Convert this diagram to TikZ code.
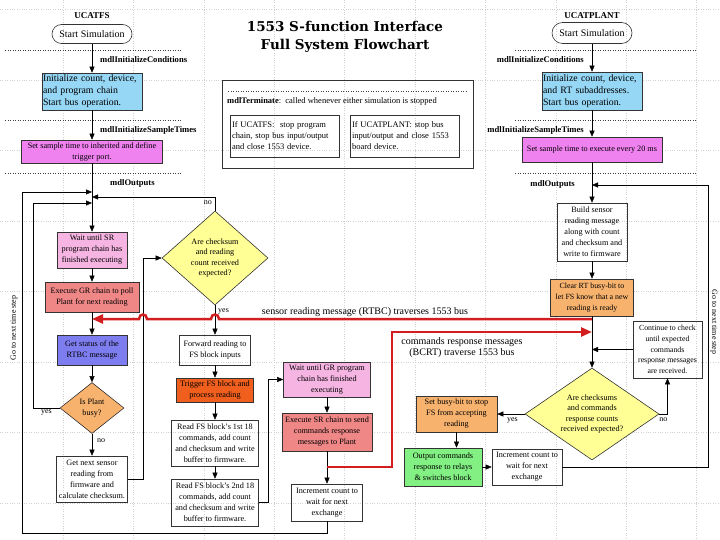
\documentclass[tikz,border=0pt]{standalone}
\usepackage{fontspec}
\setmainfont{Liberation Serif}
\newfontfamily\titlefont{DejaVu Serif}
\usetikzlibrary{positioning,shapes.geometric,arrows.meta}

\definecolor{initblue}{RGB}{150,215,245}
\definecolor{sampmagenta}{RGB}{240,130,240}
\definecolor{waitpink}{RGB}{245,180,225}
\definecolor{execred}{RGB}{240,135,135}
\definecolor{rtbcblue}{RGB}{125,125,240}
\definecolor{busyorange}{RGB}{247,178,110}
\definecolor{trigorange}{RGB}{240,95,30}
\definecolor{chkyellow}{RGB}{255,255,150}
\definecolor{cmdgreen}{RGB}{130,240,130}
\definecolor{busred}{RGB}{210,30,30}

\newcommand\boxfont{\fontsize{8.2}{11}\selectfont}

\begin{document}
\begin{tikzpicture}[x=1pt,y=-1pt,on grid,>={Triangle[length=6pt,width=5pt]},
    proc/.style={rectangle,draw=black!80,line width=0.6pt,inner sep=1pt,align=center,font=\boxfont},
    initbox/.style={proc,fill=initblue,text width=98pt,inner sep=1pt,align=left,font=\fontsize{9.8}{12}\selectfont},
    decide/.style={diamond,draw=black!80,line width=0.6pt,inner sep=0pt,align=center,font=\fontsize{8.2}{10.6}\selectfont,fill=chkyellow},
    startstop/.style={rectangle,rounded corners=9.5pt,draw=black!80,line width=0.6pt,minimum width=80pt,minimum height=19pt,font=\fontsize{10}{11}\selectfont},
    phase/.style={inner sep=0pt,font=\bfseries\fontsize{8.6}{10}\selectfont},
    ans/.style={inner sep=0pt,font=\fontsize{8}{9}\selectfont},
    bus/.style={draw=busred,line width=2.5pt,-{Triangle[length=11pt,width=9pt]}},
    sep/.style={dotted,black!75,line width=0.5pt},
    gridline/.style={dotted,black!18,line width=0.4pt}]
\useasboundingbox (0,0) rectangle (720,540);
\fill[white] (0,0) rectangle (720,540);
% background grid
\foreach \gx in {0,...,9} \draw[gridline] (63+70.4*\gx,0) -- (63+70.4*\gx,540);
\foreach \gy in {-1,...,6} \draw[gridline] (0,80+70.5*\gy) -- (720,80+70.5*\gy);

% title
\node[align=center,font=\titlefont\bfseries\fontsize{13.5}{18}\selectfont] (title) at (345,37) {1553 S-function Interface\\Full System Flowchart};

% UCATFS side
\node[font=\bfseries\fontsize{9}{10}\selectfont] (name_fs) at (92,16) {UCATFS};
\node[startstop] (start_fs) at (92,34) {Start Simulation};
\node[initbox,minimum height=37pt] (init_fs) [below=57.5pt of start_fs] {Initialize count, device,\\and program chain\\Start bus operation.};
\node[proc,fill=sampmagenta,minimum width=141pt,minimum height=23pt] (samp_fs) [below=60pt of init_fs] {Set sample time to inherited and define\\trigger port.};
\node[proc,fill=waitpink,minimum width=70pt,minimum height=36pt] (wait_sr) [below=98.5pt of samp_fs] {Wait until SR\\program chain has\\finished executing};
\node[proc,fill=execred,minimum width=94pt,minimum height=30pt] (exec_gr) [below=47pt of wait_sr] {Execute GR chain to poll\\Plant for next reading};
\node[proc,fill=rtbcblue,minimum width=70pt,minimum height=30pt] (rtbc) [below=53pt of exec_gr] {Get status of the\\RTBC message};
\node[decide,fill=busyorange,aspect=1.25,minimum width=64pt,minimum height=51pt] (plant_busy) [below=58pt of rtbc] {Is Plant\\busy?};
\node[proc,minimum width=71pt,minimum height=46pt] (get_next) [below=71pt of plant_busy] {Get next sensor\\reading from\\firmware and\\calculate checksum.};

\node[decide,aspect=1.1,minimum width=106pt,minimum height=94pt] (chk1) at (215,258) {Are checksum\\and reading\\count received\\expected?};
\node[proc,minimum width=71pt,minimum height=30pt] (fwd) [below=92pt of chk1] {Forward reading to\\FS block inputs};
\node[proc,fill=trigorange,minimum width=77pt,minimum height=24pt] (trig) [below=40pt of fwd] {Trigger FS block and\\process reading};
\node[proc,minimum width=87pt,minimum height=46pt] (read1) [below=53pt of trig] {Read FS block's 1st 18\\commands, add count\\and checksum and write\\buffer to firmware.};
\node[proc,minimum width=87pt,minimum height=47pt] (read2) [below=59.5pt of read1] {Read FS block's 2nd 18\\commands, add count\\and checksum and write\\buffer to firmware.};

\node[proc,fill=waitpink,minimum width=87pt,minimum height=35pt] (wait_gr) at (327,379.5) {Wait until GR program\\chain has finished\\executing};
\node[proc,fill=execred,minimum width=90pt,minimum height=38pt] (exec_sr) [below=52.5pt of wait_gr] {Execute SR chain to send\\commands response\\messages to Plant};
\node[proc,minimum width=71pt,minimum height=37pt] (inc_fs) [below=70.5pt of exec_sr] {Increment count to\\wait for next\\exchange};

% UCATPLANT side
\node[font=\bfseries\fontsize{9}{10}\selectfont] (name_pl) at (592,16) {UCATPLANT};
\node[startstop,minimum height=21pt,rounded corners=10.5pt] (start_pl) at (592,33) {Start Simulation};
\node[initbox,minimum height=38pt] (init_pl) [below=58pt of start_pl] {Initialize count, device,\\and RT subaddresses.\\Start bus operation.};
\node[proc,fill=sampmagenta,minimum width=140pt,minimum height=25pt] (samp_pl) [below=58.5pt of init_pl] {Set sample time to execute every 20 ms};
\node[proc,minimum width=70pt,minimum height=58pt] (build) [below=82.5pt of samp_pl] {Build sensor\\reading message\\along with count\\and checksum and\\write to firmware};
\node[proc,fill=busyorange,minimum width=83pt,minimum height=37pt,font=\fontsize{7.9}{11}\selectfont] (clear) [below=65.5pt of build] {Clear RT busy-bit to\\let FS know that a new\\reading is ready};
\node[decide,aspect=1.5,minimum width=134pt,minimum height=92pt] (chk2) [below=116.5pt of clear] {Are checksums\\and commands\\response counts\\received expected?};
\node[proc,minimum width=69pt,minimum height=57pt,font=\fontsize{7.8}{10.8}\selectfont] (cont) at (667.5,349.5) {Continue to check\\until expected\\commands\\response messages\\are received.};
\node[proc,fill=busyorange,minimum width=81pt,minimum height=36pt] (busyset) [left=135.5pt of chk2] {Set busy-bit to stop\\FS from accepting\\reading};
\node[proc,fill=cmdgreen,minimum width=78pt,minimum height=38pt] (out_cmd) at (443,467) {Output commands\\response to relays\\\& switches block};
\node[proc,minimum width=70pt,minimum height=36pt] (inc_pl) [right=84pt of out_cmd] {Increment count to\\wait for next\\exchange};

% terminate box
\node[draw=black!80,line width=0.6pt,minimum width=251pt,minimum height=88pt] (term) at (347.5,124) {};
\draw[sep] (228,91) -- (466,91);
\node[anchor=west,inner sep=0pt,font=\fontsize{8.5}{10}\selectfont] (term_txt) at (227,101) {\textbf{mdlTerminate}:\ \ called whenever either simulation is stopped};
\node[proc,text width=105pt,inner sep=2pt,align=left,minimum height=42pt,font=\fontsize{8.5}{11}\selectfont] (term_fs) at (284.5,136) {If UCATFS:\ \ stop program\\chain, stop bus input/output\\and close 1553 device.};
\node[proc,text width=105pt,inner sep=2pt,align=left,minimum height=42pt,font=\fontsize{8.5}{11}\selectfont] (term_pl) at (404.5,136) {If UCATPLANT: stop bus\\input/output and close 1553\\board device.};

% phase separators and labels
\foreach \sy in {50,120,173} {
  \draw[sep] (5,\sy) -- (182,\sy);
  \draw[sep] (515,\sy) -- (697,\sy);
}
\node[phase,anchor=west] (cond_fs) at (100,60) {mdlInitializeConditions};
\node[phase,anchor=west] (times_fs) at (100,130) {mdlInitializeSampleTimes};
\node[phase,anchor=west] (out_fs) at (110,183) {mdlOutputs};
\node[phase,anchor=east] (cond_pl) at (584,60) {mdlInitializeConditions};
\node[phase,anchor=east] (times_pl) at (584,130) {mdlInitializeSampleTimes};
\node[phase,anchor=east] (out_pl) at (575,184) {mdlOutputs};

\node[ans,rotate=90] (step_fs) at (14,328) {Go to next time step};
\node[ans,rotate=-90] (step_pl) at (714,322) {Go to next time step};

% UCATFS connectors
\coordinate (join_step) at (92,192);
\coordinate (join_no) at (92,197);
\coordinate (join_busy) at (92,203);
\draw[->] (start_fs) -- (init_fs);
\draw[->] (init_fs) -- (samp_fs);
\draw[->] (samp_fs) -- (wait_sr);
\draw[->] (wait_sr) -- (exec_gr);
\draw[->] (exec_gr) -- (rtbc);
\draw[->] (rtbc) -- (plant_busy);
\draw[->] (plant_busy) -- node[ans,anchor=west,pos=0.3,xshift=5pt] {no} (get_next);
\draw[->] (plant_busy.west) -- node[ans,below=2pt] {yes} (33,408) -- (join_busy -| 33,0) -- (join_busy);
\draw[->] (get_next.east) -- ++(15,0) |- (chk1.west);
\draw[->] (chk1.north) |- node[ans,pos=0.3,left=3pt] {no} (join_no);
\draw[->] (chk1.south) -- node[ans,pos=0.1,anchor=north west,xshift=3pt] {yes} (fwd);
\draw[->] (fwd) -- (trig);
\draw[->] (trig) -- (read1);
\draw[->] (read1) -- (read2);
\draw[->] (read2.east) -- ++(9,0) |- (wait_gr.west);
\draw[->] (wait_gr) -- (exec_sr);
\draw[->] (exec_sr) -- (inc_fs);
\draw[->] (inc_fs.south) -- ++(0,12) -| (22,192) -- (join_step);

% UCATPLANT connectors
\coordinate (join_pl) at (592,185);
\coordinate (join_cont) at (592,349.5);
\draw[->] (start_pl) -- (init_pl);
\draw[->] (init_pl) -- (samp_pl);
\draw[->] (samp_pl) -- (build);
\draw[->] (build) -- (clear);
\draw[->] (clear) -- (chk2);
\draw[->] (cont.west) -- (join_cont);
\draw[->] (chk2.east) -| node[ans,pos=0.25,below=4pt] {no} (cont.south);
\draw[->] (chk2.west) -- node[ans,pos=0.45,below=4pt] {yes} (busyset.east);
\draw[->] (busyset.south) -- (busyset.south |- out_cmd.north);
\draw[->] (out_cmd) -- (inc_pl);
\draw[->] (inc_pl.east) -- ++(146,0) |- (join_pl);

% 1553 bus messages
\coordinate (bus_rtbc) at (592,319);
\coordinate (bus_bcrt) at (327,467);
\coordinate (bus_end) at (592,332);
\draw[bus] (bus_rtbc) -- (219,319) .. controls (219,313) and (211,313) .. (211,319)
  -- (147,319) .. controls (147,313) and (139,313) .. (139,319) -- (exec_gr.south |- bus_rtbc);
\draw[bus] (bus_bcrt) -| (392,332) -- (bus_end);
\node[font=\fontsize{10}{11}\selectfont,inner sep=0pt] (rtbc_msg) at (365,312) {sensor reading message (RTBC) traverses 1553 bus};
\node[align=center,font=\fontsize{10}{11}\selectfont,inner sep=0pt] (bcrt_msg) at (462,347.5) {commands response messages\\(BCRT) traverse 1553 bus};
\end{tikzpicture}
\end{document}
